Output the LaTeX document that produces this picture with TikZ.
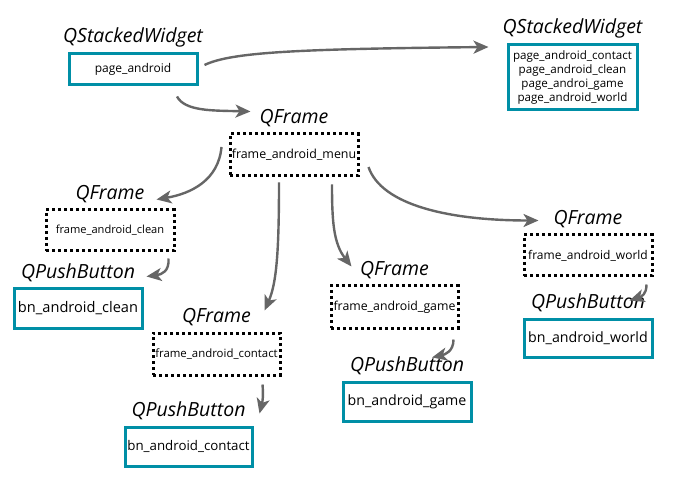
\documentclass[tikz,border=0pt]{standalone}
\usepackage{fontspec}
\setmainfont{Open Sans}
\usetikzlibrary{calc,positioning,arrows.meta}
\definecolor{qteal}{RGB}{0,143,166}
\definecolor{qgray}{RGB}{102,102,102}

\begin{document}
\begin{tikzpicture}[x=1pt,y=-1pt,>={Stealth[length=15pt,width=13pt,inset=4pt]}]
    \tikzstyle{widget}=[rectangle,draw=qteal,line width=3pt,inner sep=0pt,
    align=center,minimum width=128pt]
    \tikzstyle{qframe}=[rectangle,draw=black,line width=3pt,inner sep=0pt,
    dash pattern=on 3pt off 3pt,minimum width=128pt,minimum height=41pt]
    \tikzstyle{cls}=[font=\itshape\fontsize{19.5}{22}\selectfont,inner sep=0pt]
    \tikzstyle{flow}=[->,draw=qgray,fill=none,line width=2.4pt]

    \useasboundingbox (0,0) rectangle (675,481);

    % stacked widgets
    \node[widget,minimum height=31pt,font=\fontsize{12}{13}\selectfont](page_android) at (133,69.5){page\_android};
    \node[cls](cls_page)[above=5pt of page_android]{QStackedWidget};
    \node[widget,minimum width=129pt,minimum height=65pt,font=\fontsize{11.6}{14.3}\selectfont](stack_pages) at (572.5,77.5){page\_android\_contact\\page\_android\_clean\\page\_androi\_game\\page\_android\_world};
    \node[cls](cls_stack)[above=5pt of stack_pages]{QStackedWidget};

    % frames
    \node[qframe,minimum height=42pt,font=\fontsize{12.4}{13}\selectfont](frame_menu) at (294,155){frame\_android\_menu};
    \node[cls](cls_menu)[above=5pt of frame_menu]{QFrame};
    \node[qframe,font=\fontsize{11.1}{13}\selectfont](frame_clean) at (110,230.5){frame\_android\_clean};
    \node[cls](cls_clean)[above=5pt of frame_clean]{QFrame};
    \node[qframe,minimum width=127pt,minimum height=42pt,font=\fontsize{11.4}{13}\selectfont](frame_contact) at (216.5,354){frame\_android\_contact};
    \node[cls](cls_contact)[above=5pt of frame_contact]{QFrame};
    \node[qframe,minimum width=127pt,minimum height=42pt,font=\fontsize{12.3}{13}\selectfont](frame_game) at (394.5,307){frame\_android\_game};
    \node[cls](cls_game)[above=5pt of frame_game]{QFrame};
    \node[qframe,font=\fontsize{12}{13}\selectfont](frame_world) at (588,255.5){frame\_android\_world};
    \node[cls](cls_world)[above=5pt of frame_world]{QFrame};

    % push buttons
    \node[widget,minimum height=39pt,font=\fontsize{14.6}{15}\selectfont](bn_clean) at (78,308.5){bn\_android\_clean};
    \node[cls](cls_bn_clean)[above=5pt of bn_clean]{QPushButton};
    \node[widget,minimum width=127pt,minimum height=39pt,font=\fontsize{13.3}{15}\selectfont](bn_contact) at (188.5,446.5){bn\_android\_contact};
    \node[cls](cls_bn_contact)[above=5pt of bn_contact]{QPushButton};
    \node[widget,minimum height=39pt,font=\fontsize{14.2}{15}\selectfont](bn_game) at (407,401.5){bn\_android\_game};
    \node[cls](cls_bn_game)[above=5pt of bn_game]{QPushButton};
    \node[widget,minimum height=38pt,font=\fontsize{14.2}{15}\selectfont](bn_world) at (588,338){bn\_android\_world};
    \node[cls](cls_bn_world)[above=5pt of bn_world]{QPushButton};

    \draw[flow] ($(page_android.east)+(6,-4.5)$) .. controls +(27,-13) and +(-190,2) .. ($(stack_pages.west)+(-18,-30.5)$);
    \draw[flow] ($(page_android.south)+(44,10)$) .. controls +(8,15) and +(-37,-1) .. ($(frame_menu.north west)+(22,-21)$);

    \draw[flow] ($(frame_menu.west)+(-7,-8)$) .. controls +(-3,33) and +(35,-6) .. ($(frame_clean.north east)+(-19,-9)$);
    \draw[flow] ($(frame_menu.south)+(-15,5)$) .. controls +(0,70) and +(12,-27) .. ($(frame_contact.north east)+(-17,-21)$);
    \draw[flow] ($(frame_menu.south)+(38,7)$) .. controls +(0,37) and +(-18,-23) .. ($(frame_game.north west)+(22,-18)$);
    \draw[flow] ($(frame_menu.east)+(9,12)$) .. controls +(13,38) and +(-90,0) .. ($(frame_world.north west)+(16,-13)$);

    \draw[flow] ($(frame_clean.south east)+(-7,6)$) .. controls +(1,13) and +(15,-2) .. ($(bn_clean.north east)+(3,-11)$);
    \draw[flow] ($(frame_contact.south east)+(-19,8)$) .. controls +(1,12) and +(3,-12) .. ($(bn_contact.north east)+(6,-12)$);
    \draw[flow] ($(frame_game.south east)+(-6,10)$) .. controls +(0,12) and +(13,-3) .. ($(bn_game.north)+(25,-23)$);
    \draw[flow] ($(frame_world.south east)+(-7,7)$) .. controls +(0,10) and +(12,-4) .. ($(bn_world.north east)+(-24,-17)$);
  \end{tikzpicture}
\end{document}
